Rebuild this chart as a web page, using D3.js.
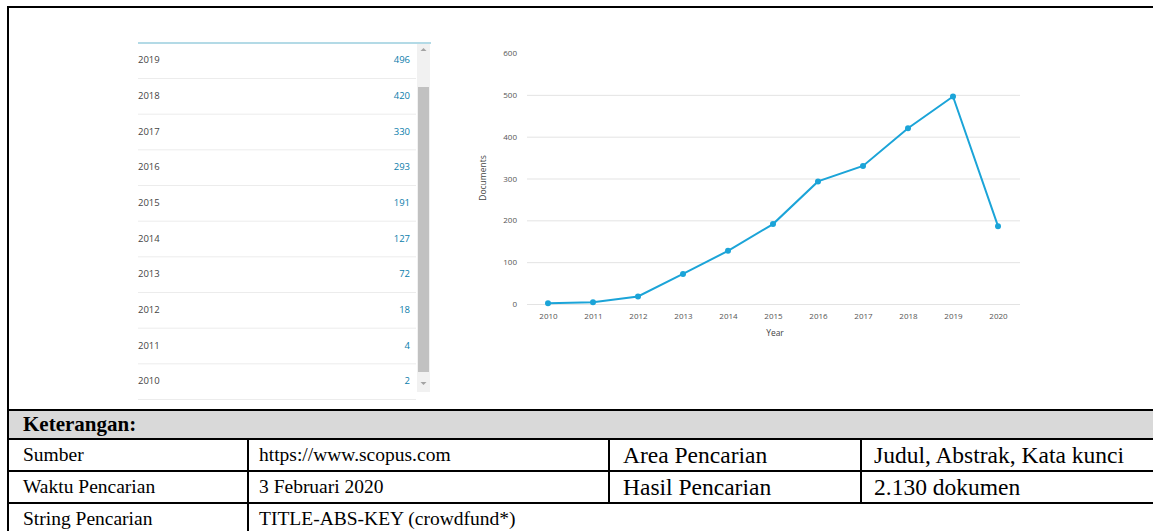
<!DOCTYPE html>
<html>
<head>
<meta charset="utf-8">
<script src="https://cdn.jsdelivr.net/npm/d3@7"></script>
<style>
  html, body { margin: 0; padding: 0; background: #fff; }
  svg { display: block; }
</style>
</head>
<body>
<svg id="chart" width="1153" height="531"></svg>
<script>
// ---- data ----
const years = [2010, 2011, 2012, 2013, 2014, 2015, 2016, 2017, 2018, 2019, 2020];
const documents = [2, 4, 18, 72, 127, 191, 293, 330, 420, 496, 186];
const yTicks = [0, 100, 200, 300, 400, 500, 600];
const listYears = [2019, 2018, 2017, 2016, 2015, 2014, 2013, 2012, 2011, 2010];
const listCounts = [496, 420, 330, 293, 191, 127, 72, 18, 4, 2];
const headerLabel = "Keterangan:";
const rowLabels = ["Sumber", "Waktu Pencarian", "String Pencarian"];
const rowValues = ["https://www.scopus.com", "3 Februari 2020", "TITLE-ABS-KEY (crowdfund*)"];
const rowLabels2 = ["Area Pencarian", "Hasil Pencarian"];
const rowValues2 = ["Judul, Abstrak, Kata kunci", "2.130 dokumen"];

const svg = d3.select("#chart");
const W = 1153, H = 531;

// ---- outer frame ----
const frame = svg.append("g");
frame.append("line").attr("x1", 8).attr("x2", W + 2).attr("y1", 7).attr("y2", 7)
  .attr("stroke", "#000").attr("stroke-width", 2);
frame.append("line").attr("x1", 8).attr("x2", 8).attr("y1", 6).attr("y2", H + 2)
  .attr("stroke", "#000").attr("stroke-width", 2);

// ---- left list (years & counts) ----
const list = svg.append("g").attr("font-family", "'Open Sans', sans-serif").attr("font-size", 9.5);
list.append("line").attr("x1", 138).attr("x2", 431).attr("y1", 43).attr("y2", 43)
  .attr("stroke", "#b3dae6").attr("stroke-width", 2);
const rowY = d3.scaleLinear().domain([0, listYears.length - 1]).range([60, 381]);
listYears.forEach((yr, i) => {
  const cy = rowY(i);
  list.append("text").attr("x", 138).attr("y", cy).attr("dy", "0.35em")
    .attr("fill", "#444").text(yr);
  list.append("text").attr("x", 410).attr("y", cy).attr("dy", "0.35em")
    .attr("text-anchor", "end").attr("fill", "#0b7dab").text(listCounts[i]);
  list.append("line").attr("x1", 138).attr("x2", 416).attr("y1", cy + 18.5).attr("y2", cy + 18.5)
    .attr("stroke", "#ececec").attr("stroke-width", 1);
});
// scrollbar
list.append("rect").attr("x", 417).attr("y", 44).attr("width", 13).attr("height", 348).attr("fill", "#f1f1f1");
list.append("rect").attr("x", 418).attr("y", 87).attr("width", 11).attr("height", 285).attr("fill", "#c1c1c1");
list.append("path").attr("d", "M420.5,51 L423.5,48 L426.5,51 Z").attr("fill", "#a3a3a3");
list.append("path").attr("d", "M420.5,382 L423.5,385 L426.5,382 Z").attr("fill", "#a3a3a3");

// ---- line chart ----
const x = d3.scalePoint().domain(years).range([548, 998]);
const y = d3.scaleLinear().domain([0, 600]).range([304, 53]);
const chart = svg.append("g").attr("font-family", "'Open Sans', sans-serif");

const yAxis = chart.append("g").attr("transform", "translate(527,0)")
  .call(d3.axisLeft(y).tickValues(yTicks).tickSize(-(1020 - 527)).tickPadding(10));
yAxis.select(".domain").remove();
yAxis.selectAll(".tick line").attr("stroke", d => d === 600 ? "none" : "#e3e3e3");
yAxis.selectAll(".tick text").attr("fill", "#555").attr("font-size", 8).attr("font-family", "'Open Sans', sans-serif");

const xAxis = chart.append("g").attr("transform", "translate(0,304)")
  .call(d3.axisBottom(x).tickSize(0).tickPadding(9));
xAxis.select(".domain").remove();
xAxis.selectAll(".tick text").attr("fill", "#555").attr("font-size", 8).attr("font-family", "'Open Sans', sans-serif");

chart.append("text").attr("x", 775).attr("y", 336).attr("text-anchor", "middle")
  .attr("font-size", 8.5).attr("fill", "#444").text("Year");
chart.append("text").attr("transform", "translate(486,178) rotate(-90)").attr("text-anchor", "middle")
  .attr("font-size", 8.5).attr("fill", "#444").text("Documents");

const pts = years.map((yr, i) => [yr, documents[i]]);
chart.append("path").datum(pts)
  .attr("fill", "none").attr("stroke", "#1ba4d8").attr("stroke-width", 2)
  .attr("d", d3.line().x(d => x(d[0])).y(d => y(d[1])));
chart.selectAll("circle.pt").data(pts).join("circle").attr("class", "pt")
  .attr("cx", d => x(d[0])).attr("cy", d => y(d[1])).attr("r", 3).attr("fill", "#1ba4d8");

// ---- bottom info table ----
const tbl = svg.append("g").attr("font-family", "'Liberation Serif', 'Times New Roman', serif").attr("fill", "#000");
const lineAttrs = sel => sel.attr("stroke", "#000").attr("stroke-width", 2);
tbl.append("rect").attr("x", 9).attr("y", 411).attr("width", W).attr("height", 27).attr("fill", "#d9d9d9");
tbl.append("text").attr("x", 23).attr("y", 431).attr("font-size", 21).attr("font-weight", "bold").text(headerLabel);
const hLines = [410, 439, 471, 503];
hLines.forEach(yy => tbl.append("line").attr("x1", 8).attr("x2", W + 2).attr("y1", yy).attr("y2", yy).call(lineAttrs));
// vertical lines
tbl.append("line").attr("x1", 248).attr("x2", 248).attr("y1", 439).attr("y2", H + 2).call(lineAttrs);
tbl.append("line").attr("x1", 609).attr("x2", 609).attr("y1", 439).attr("y2", 503).call(lineAttrs);
tbl.append("line").attr("x1", 861).attr("x2", 861).attr("y1", 439).attr("y2", 503).call(lineAttrs);
const rowCenters = [455, 487, 519];
rowLabels.forEach((t, i) => {
  tbl.append("text").attr("x", 23).attr("y", rowCenters[i]).attr("dy", "0.33em").attr("font-size", 19.5).text(t);
  tbl.append("text").attr("x", 259).attr("y", rowCenters[i]).attr("dy", "0.33em").attr("font-size", 19.5).text(rowValues[i]);
});
rowLabels2.forEach((t, i) => {
  tbl.append("text").attr("x", 623).attr("y", rowCenters[i]).attr("dy", "0.33em").attr("font-size", 23.5).text(t);
  tbl.append("text").attr("x", 874).attr("y", rowCenters[i]).attr("dy", "0.33em").attr("font-size", 23.5).text(rowValues2[i]);
});
</script>
</body>
</html>
